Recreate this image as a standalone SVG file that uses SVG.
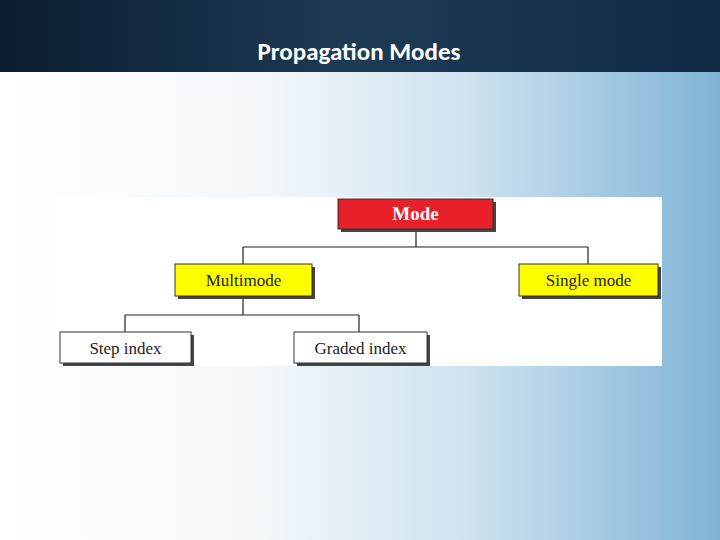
<svg xmlns="http://www.w3.org/2000/svg" width="720" height="540" viewBox="0 0 720 540">
<style>
.box{stroke:#333;stroke-width:1}
.sh{fill:#444}
.t{font-family:"Liberation Serif",serif;font-size:17px;fill:#222;text-anchor:middle}
.c{stroke:#222;stroke-width:1.2;fill:none}
</style>
<defs>
<linearGradient id="bg" x1="0" y1="0" x2="1" y2="0">
<stop offset="0" stop-color="#ffffff"/><stop offset="0.35" stop-color="#f4f8fb"/><stop offset="0.65" stop-color="#cfe3f0"/><stop offset="1" stop-color="#7fb3d6"/>
</linearGradient>
<linearGradient id="hd" x1="0" y1="0" x2="1" y2="0">
<stop offset="0" stop-color="#0c1e30"/><stop offset="0.5" stop-color="#1d3b55"/><stop offset="1" stop-color="#0f2a44"/>
</linearGradient>
</defs>
<rect width="720" height="540" fill="url(#bg)"/>
<rect width="720" height="72" fill="url(#hd)"/>
<text x="359" y="60" font-family="Calibri,'Liberation Sans',sans-serif" font-weight="bold" font-size="25" fill="#fff" text-anchor="middle">Propagation Modes</text>
<rect x="55" y="197" width="607" height="169" fill="#fff"/>
<g id="connectors">
<path class="c" d="M416 229V247M243 247H588M243 247V264M588 247V264"/>
<path class="c" d="M243 296V315M125 315H359M125 315V332M359 315V332"/>
</g>
<g id="mode"><rect class="sh" x="341" y="202" width="155" height="30"/><rect class="box" x="338" y="199" width="155" height="30" fill="#e8202a"/><text class="t" x="415.5" y="220" font-weight="bold" style="fill:#fff;font-size:19px">Mode</text></g>
<g id="multimode"><rect class="sh" x="178" y="267" width="137" height="32"/><rect class="box" x="175" y="264" width="137" height="32" fill="#ffff00"/><text class="t" x="243.5" y="286">Multimode</text></g>
<g id="single"><rect class="sh" x="522" y="267" width="139" height="32"/><rect class="box" x="519" y="264" width="139" height="32" fill="#ffff00"/><text class="t" x="588.5" y="286">Single mode</text></g>
<g id="step"><rect class="sh" x="63" y="335" width="131" height="31"/><rect class="box" x="60" y="332" width="131" height="31" fill="#fff"/><text class="t" x="125.5" y="354">Step index</text></g>
<g id="graded"><rect class="sh" x="297" y="335" width="133" height="31"/><rect class="box" x="294" y="332" width="133" height="31" fill="#fff"/><text class="t" x="360.5" y="354">Graded index</text></g>
</svg>
